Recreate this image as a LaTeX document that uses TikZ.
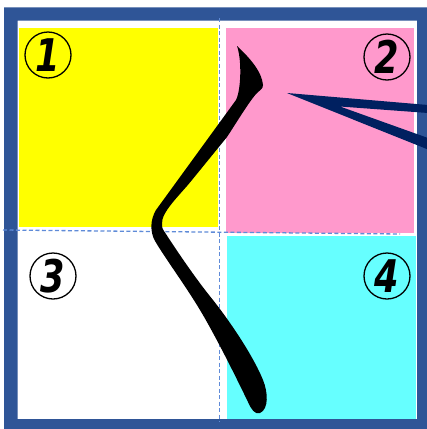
\documentclass[tikz,border=0pt]{standalone}
\usepackage{fontspec}
\newfontfamily\numfont[FakeStretch=0.78]{DejaVu Sans}
\definecolor{frameblue}{HTML}{2F5597}
\definecolor{wedgenavy}{HTML}{002060}
\definecolor{dashblue}{HTML}{5F8BD8}
\definecolor{pinkq}{HTML}{FF99CC}
\definecolor{cyanq}{HTML}{66FFFF}
\definecolor{yellowq}{HTML}{FFFF00}
\tikzset{
  numc/.style={circle, draw=black, line width=1.3pt, minimum size=46pt, inner sep=0pt,
    font=\numfont\bfseries\itshape\fontsize{45}{45}\selectfont},
  guide/.style={dashblue, line width=1.3pt, dash pattern=on 4pt off 2.5pt},
}
\begin{document}
\begin{tikzpicture}[x=1pt,y=-1pt]
\useasboundingbox (0,0) rectangle (427,429);
\fill[white] (0,0) rectangle (427,429);
% quadrants
\fill[yellowq] (19,27.7) rectangle (217.7,226.7);
\fill[pinkq] (225.7,27.7) rectangle (414,232.7);
\fill[cyanq] (227.3,235.7) rectangle (416,419);
% frame
\fill[frameblue, even odd rule] (4,7.3) rectangle (428,430) (17.5,20.7) rectangle (417,419);
% guide lines
\coordinate (vt) at (219.3,18);
\coordinate (vb) at (219.3,422);
\coordinate (hl) at (3,230);
\coordinate (hr) at (400,234);
\draw[guide] (vt) -- (vb);
\draw[guide] (hl) -- (hr);
% brush stroke
\fill[black] (237,46)
  .. controls (250,58) and (262,72) .. (263,85)
  .. controls (263,89) and (260,90) .. (257,93)
  .. controls (250,100) and (235,125) .. (227,137)
  -- (192,180)
  .. controls (180,195) and (161,212) .. (162,224)
  .. controls (162,228) and (163,230) .. (164,231)
  .. controls (175,248) and (195,278) .. (213,300)
  .. controls (235,328) and (255,360) .. (263,380)
  .. controls (268,392) and (269,409) .. (260,413)
  .. controls (255,415) and (251,409) .. (248,402)
  .. controls (235,375) and (215,335) .. (200,310)
  .. controls (185,285) and (165,258) .. (155,241)
  .. controls (150,232) and (150,220) .. (156,210)
  -- (236,100)
  .. controls (241,90) and (242,60) .. (237,46) -- cycle;
% wedge
\fill[wedgenavy] (287,93) -- (428,105) -- (428,113) -- (340,106.5) -- (428,138) -- (428,149.5) -- cycle;
% numbers
\node[numc] (n1) at (48,55) {1};
\node[numc] (n2) at (387,57) {2};
\node[numc] (n3) at (53,276) {3};
\node[numc] (n4) at (387,276) {4};
\end{tikzpicture}
\end{document}
